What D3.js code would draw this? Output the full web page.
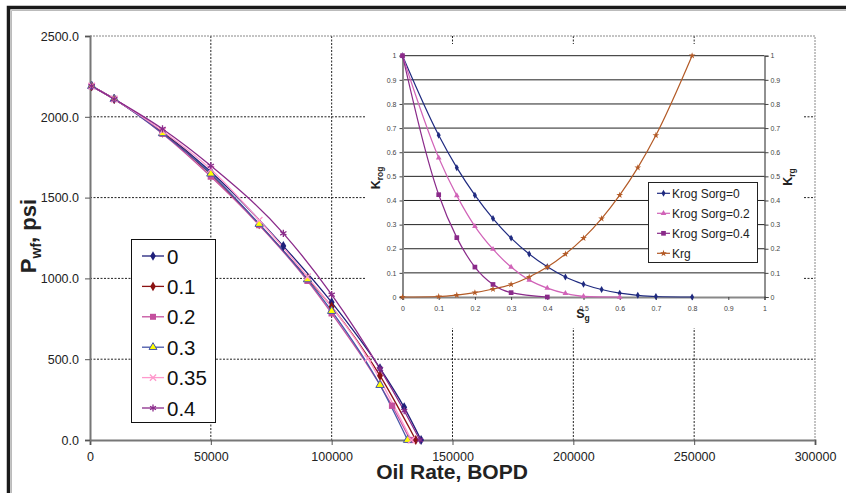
<!DOCTYPE html>
<html>
<head>
<meta charset="utf-8">
<script src="https://cdn.jsdelivr.net/npm/d3@7"></script>
<style>
  body { margin: 0; background: #fff; }
  svg { display: block; }
  text { font-family: "Liberation Sans", Arial, sans-serif; }
</style>
</head>
<body>
<svg width="846" height="493"></svg>
<script>
var svg = d3.select("svg");

// IPR curves, one pair of arrays per Sorg value
var seriesNames = ["0", "0.1", "0.2", "0.3", "0.35", "0.4"];
var rate0  = [700, 10000, 30000, 50000, 80000, 100000, 120000, 130000, 137000];
var pwf0   = [2190, 2110, 1908, 1660, 1200, 852, 444, 202, 0];
var rate01 = [700, 10000, 30000, 50000, 70000, 90000, 100000, 120000, 134800];
var pwf01  = [2190, 2110, 1902, 1645, 1335, 1000, 825, 398, 0];
var rate02 = [700, 10000, 30000, 50000, 70000, 90000, 100000, 125000, 132500];
var pwf02  = [2190, 2110, 1895, 1630, 1330, 985, 784, 212, 0];
var rate03 = [700, 10000, 30000, 50000, 70000, 90000, 100000, 120000, 131400];
var pwf03  = [2190, 2110, 1898, 1648, 1337, 994, 798, 340, 0];
var rate035 = [700, 10000, 30000, 50000, 70000, 90000, 115000, 133000];
var pwf035  = [2190, 2110, 1912, 1675, 1360, 1010, 505, 0];
var rate04 = [700, 10000, 30000, 50000, 80000, 100000, 120000, 130000, 136500];
var pwf04  = [2190, 2110, 1925, 1697, 1279, 899, 440, 181, 0];

var xTicks = [0, 50000, 100000, 150000, 200000, 250000, 300000];
var yTicks = [0, 500, 1000, 1500, 2000, 2500];

// inset: relative permeability
var insetNames = ["Krog Sorg=0", "Krog Sorg=0.2", "Krog Sorg=0.4", "Krg"];
var sgA = [0, 0.1, 0.15, 0.2, 0.25, 0.3, 0.35, 0.4, 0.45, 0.5, 0.55, 0.6, 0.65, 0.7, 0.8];
var krogA = [1, 0.670, 0.536, 0.422, 0.325, 0.244, 0.178, 0.125, 0.083, 0.053, 0.031, 0.016, 0.007, 0.002, 0];
var sgB = [0, 0.1, 0.15, 0.2, 0.25, 0.3, 0.35, 0.4, 0.45, 0.5, 0.6];
var krogB = [1, 0.577, 0.420, 0.293, 0.198, 0.124, 0.070, 0.037, 0.015, 0.003, 0];
var sgC = [0, 0.1, 0.15, 0.2, 0.25, 0.3, 0.4];
var krogC = [1, 0.424, 0.246, 0.124, 0.052, 0.018, 0];
var sgD = [0, 0.1, 0.15, 0.2, 0.25, 0.3, 0.35, 0.4, 0.45, 0.5, 0.55, 0.6, 0.65, 0.7, 0.8];
var krgD = [0, 0.002, 0.008, 0.018, 0.033, 0.052, 0.083, 0.124, 0.178, 0.244, 0.325, 0.422, 0.536, 0.670, 1];
var insetTicks = [0, 0.1, 0.2, 0.3, 0.4, 0.5, 0.6, 0.7, 0.8, 0.9, 1];

var series = [
  {name: "0",    q: rate0,   p: pwf0,   color: "#1f1f7a", fill: "#1f1f7a", sym: d3.symbolDiamond, size: 30},
  {name: "0.1",  q: rate01,  p: pwf01,  color: "#8b1212", fill: "#8b1212", sym: d3.symbolDiamond, size: 30},
  {name: "0.2",  q: rate02,  p: pwf02,  color: "#c4509e", fill: "#c4509e", sym: d3.symbolSquare,  size: 40},
  {name: "0.3",  q: rate03,  p: pwf03,  color: "#4656a8", fill: "#ffff00", sym: d3.symbolTriangle, size: 30, stroke: true},
  {name: "0.35", q: rate035, p: pwf035, color: "#ff99cc", fill: "none",    sym: d3.symbolX,       size: 30, line: true},
  {name: "0.4",  q: rate04,  p: pwf04,  color: "#8a2a8a", fill: "none",    sym: d3.symbolAsterisk, size: 36, line: true}
];

var x = d3.scaleLinear().domain([0, 300000]).range([90, 815]);
var y = d3.scaleLinear().domain([0, 2500]).range([440, 36]);

// outer frame
svg.append("path")
  .attr("d", "M846,7.5H8.5V493")
  .attr("fill", "none").attr("stroke", "#1a1a1a").attr("stroke-width", 3.5);
svg.append("path")
  .attr("d", "M846,10.5H11.5V493")
  .attr("fill", "none").attr("stroke", "#bbb").attr("stroke-width", 1);

// gridlines
svg.append("g").selectAll("line")
  .data(xTicks.slice(1, -1))
  .enter().append("line")
  .attr("x1", d => x(d)).attr("x2", d => x(d))
  .attr("y1", y(2500)).attr("y2", y(0))
  .attr("stroke", "#222").attr("stroke-dasharray", "2,1.5");
svg.append("g").selectAll("line")
  .data(yTicks.slice(1, -1))
  .enter().append("line")
  .attr("x1", x(0)).attr("x2", x(300000))
  .attr("y1", d => y(d)).attr("y2", d => y(d))
  .attr("stroke", "#222").attr("stroke-dasharray", "2,1.5");
// top and right border of plot area
svg.append("path")
  .attr("d", "M" + x(0) + "," + y(2500) + "H" + x(300000) + "V" + y(0))
  .attr("fill", "none").attr("stroke", "#888").attr("stroke-dasharray", "2,1");

// axes
var xAxis = svg.append("g")
  .attr("transform", "translate(0," + y(0) + ")")
  .call(d3.axisBottom(x).tickValues(xTicks).tickSize(5).tickFormat(d3.format("d")));
var yAxis = svg.append("g")
  .attr("transform", "translate(" + x(0) + ",0)")
  .call(d3.axisLeft(y).tickValues(yTicks).tickSize(5).tickFormat(d3.format(".1f")));
[xAxis, yAxis].forEach(function(g) {
  g.select(".domain").attr("stroke", "#777").attr("stroke-width", 2);
  g.selectAll(".tick line").attr("stroke", "#555");
  g.selectAll(".tick text").attr("fill", "#222").attr("font-size", 12.5)
    .style("font-family", '"Liberation Sans", Arial, sans-serif');
});
xAxis.selectAll(".tick text").attr("dy", "1.05em");
yAxis.selectAll(".tick text").attr("x", -11).attr("dy", "0.35em");

// axis titles
svg.append("text")
  .attr("x", 452).attr("y", 478.5)
  .attr("text-anchor", "middle")
  .attr("font-size", 21).attr("font-weight", "bold").attr("fill", "#222")
  .text("Oil Rate, BOPD");
var yt = svg.append("text")
  .attr("transform", "translate(36,236) rotate(-90)")
  .attr("text-anchor", "middle")
  .attr("font-size", 22).attr("font-weight", "bold").attr("fill", "#222");
yt.append("tspan").text("P");
yt.append("tspan").attr("dy", 5).attr("font-size", 14).text("wf");
yt.append("tspan").attr("dy", -5).text(", psi");

// curves
var line = d3.line().curve(d3.curveMonotoneX);
series.forEach(function(s) {
  var pts = s.q.map((q, i) => [x(q), y(s.p[i])]);
  svg.append("path")
    .attr("d", line(pts))
    .attr("fill", "none").attr("stroke", s.color).attr("stroke-width", 1.3);
});
function drawMarker(g, s, px, py, scale) {
  var m = g.append("path")
    .attr("transform", "translate(" + px + "," + py + ")")
    .attr("d", d3.symbol().type(s.sym).size(s.size * (scale || 1))());
  if (s.line) {
    m.attr("fill", "none").attr("stroke", s.color).attr("stroke-width", 1.3);
  } else if (s.stroke) {
    m.attr("fill", s.fill).attr("stroke", s.color).attr("stroke-width", 1);
  } else {
    m.attr("fill", s.fill);
  }
}
var markers = svg.append("g");
series.forEach(function(s) {
  s.q.forEach(function(q, i) { drawMarker(markers, s, x(q), y(s.p[i])); });
});

// main legend
var lg = svg.append("g");
lg.append("rect")
  .attr("x", 131.5).attr("y", 239.5).attr("width", 84).attr("height", 183)
  .attr("fill", "#fff").attr("stroke", "#111");
series.forEach(function(s, i) {
  var cy = 256 + i * 30.4;
  lg.append("line")
    .attr("x1", 142).attr("x2", 164).attr("y1", cy).attr("y2", cy)
    .attr("stroke", s.color).attr("stroke-width", 1.3);
  drawMarker(lg, s, 153, cy, 0.9);
  lg.append("text")
    .attr("x", 167).attr("y", cy + 7.5)
    .attr("font-size", 20.5).attr("fill", "#111")
    .text(s.name);
});

// ---------- inset chart ----------
var inset = svg.append("g");
inset.append("rect")
  .attr("x", 365).attr("y", 44).attr("width", 439).attr("height", 284)
  .attr("fill", "#fff");

var ix = d3.scaleLinear().domain([0, 1]).range([402.5, 764.5]);
var iy = d3.scaleLinear().domain([0, 1]).range([297, 55.7]);

inset.append("g").selectAll("line")
  .data(insetTicks.slice(1))
  .enter().append("line")
  .attr("x1", ix(0)).attr("x2", ix(1))
  .attr("y1", d => iy(d)).attr("y2", d => iy(d))
  .attr("stroke", "#222").attr("stroke-width", 1);

var ixAxis = inset.append("g")
  .attr("transform", "translate(0," + iy(0) + ")")
  .call(d3.axisBottom(ix).tickValues(insetTicks).tickSize(3).tickFormat(d3.format("~g")));
var iyAxis = inset.append("g")
  .attr("transform", "translate(" + ix(0) + ",0)")
  .call(d3.axisLeft(iy).tickValues(insetTicks).tickSize(3).tickFormat(d3.format("~g")));
var iy2Axis = inset.append("g")
  .attr("transform", "translate(" + ix(1) + ",0)")
  .call(d3.axisRight(iy).tickValues(insetTicks).tickSize(4).tickFormat(d3.format("~g")));
[ixAxis, iyAxis].forEach(function(g) {
  g.select(".domain").attr("stroke", "#888").attr("stroke-width", 2);
});
iy2Axis.select(".domain").attr("stroke", "#222").attr("stroke-width", 1);
[ixAxis, iyAxis, iy2Axis].forEach(function(g) {
  g.selectAll(".tick line").attr("stroke", "#444");
  g.selectAll(".tick text").attr("font-size", 7).attr("fill", "#444")
    .style("font-family", '"Liberation Sans", Arial, sans-serif');
});
ixAxis.selectAll(".tick text").attr("dy", "1.2em");
iyAxis.selectAll(".tick text").attr("x", -6);
iy2Axis.selectAll(".tick text").attr("x", 6);

var k1 = inset.append("text")
  .attr("transform", "translate(380,178) rotate(-90)")
  .attr("text-anchor", "middle").attr("font-size", 12.5)
  .attr("font-weight", "bold").attr("fill", "#222");
k1.append("tspan").text("K");
k1.append("tspan").attr("dy", 3).attr("font-size", 8.5).text("rog");
var k2 = inset.append("text")
  .attr("transform", "translate(792,177) rotate(-90)")
  .attr("text-anchor", "middle").attr("font-size", 12.5)
  .attr("font-weight", "bold").attr("fill", "#222");
k2.append("tspan").text("K");
k2.append("tspan").attr("dy", 3).attr("font-size", 8.5).text("rg");
var sgl = inset.append("text")
  .attr("x", 583).attr("y", 318)
  .attr("text-anchor", "middle").attr("font-size", 12.5)
  .attr("font-weight", "bold").attr("fill", "#222");
sgl.append("tspan").text("S");
sgl.append("tspan").attr("dy", 3).attr("font-size", 8.5).text("g");

var insetSeries = [
  {name: insetNames[0], s: sgA, k: krogA, color: "#1f2a80", sym: d3.symbolDiamond, size: 14},
  {name: insetNames[1], s: sgB, k: krogB, color: "#d163b8", sym: d3.symbolTriangle, size: 14},
  {name: insetNames[2], s: sgC, k: krogC, color: "#8a2a8a", sym: d3.symbolSquare, size: 22},
  {name: insetNames[3], s: sgD, k: krgD, color: "#b35a26", sym: d3.symbolStar, size: 14}
];
insetSeries.forEach(function(d) {
  var pts = d.s.map((sg, i) => [ix(sg), iy(d.k[i])]);
  inset.append("path")
    .attr("d", line(pts))
    .attr("fill", "none").attr("stroke", d.color).attr("stroke-width", 1.2);
  pts.forEach(function(p) {
    inset.append("path")
      .attr("transform", "translate(" + p[0] + "," + p[1] + ")")
      .attr("d", d3.symbol().type(d.sym).size(d.size)())
      .attr("fill", d.color);
  });
});

// inset legend
var il = inset.append("g");
il.append("rect")
  .attr("x", 648.5).attr("y", 182.5).attr("width", 109).attr("height", 80)
  .attr("fill", "#fff").attr("stroke", "#222");
insetSeries.forEach(function(d, i) {
  var cy = 193.3 + i * 20;
  il.append("line")
    .attr("x1", 657).attr("x2", 670).attr("y1", cy).attr("y2", cy)
    .attr("stroke", d.color).attr("stroke-width", 1.2);
  il.append("path")
    .attr("transform", "translate(663.5," + cy + ")")
    .attr("d", d3.symbol().type(d.sym).size(d.size)())
    .attr("fill", d.color);
  il.append("text")
    .attr("x", 672).attr("y", cy + 4.3)
    .attr("font-size", 12).attr("fill", "#222")
    .text(d.name);
});
</script>
</body>
</html>
